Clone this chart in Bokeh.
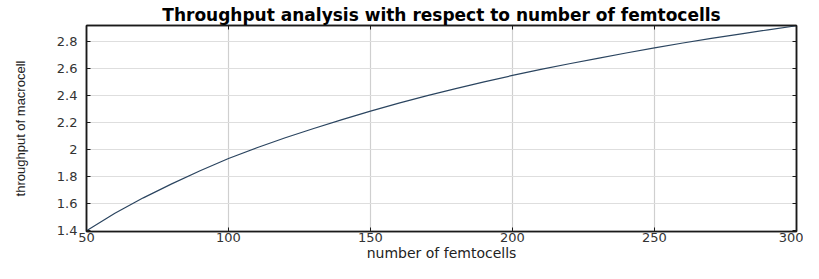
from bokeh.plotting import figure
from bokeh.models import Range1d, FixedTicker, LinearAxis
from bokeh.embed import file_html
from bokeh.resources import INLINE

# ---- data ----
femtocells = [50, 60, 70, 80, 90, 100, 110, 120, 130, 140, 150, 160, 170, 180,
              190, 200, 210, 220, 230, 240, 250, 260, 270, 280, 290, 300]
throughput = [1.396, 1.526, 1.640, 1.744, 1.841, 1.932, 2.012, 2.086, 2.155,
              2.221, 2.284, 2.344, 2.399, 2.451, 2.501, 2.549, 2.594, 2.636,
              2.676, 2.716, 2.754, 2.790, 2.824, 2.856, 2.888, 2.918]
x_ticks = [50, 100, 150, 200, 250, 300]
x_tick_labels = ["50", "100", "150", "200", "250", "300"]
y_ticks = [1.4, 1.6, 1.8, 2.0, 2.2, 2.4, 2.6, 2.8]
y_tick_labels = ["1.4", "1.6", "1.8", "2", "2.2", "2.4", "2.6", "2.8"]
x_limits = (50, 300)
y_limits = (1.39, 2.92)

title_text = "Throughput analysis with respect to number of femtocells"
x_label = "number of femtocells"
y_label = "throughput of macrocell"

p = figure(width=803, height=263, output_backend="svg", toolbar_location=None,
           x_range=Range1d(*x_limits), y_range=Range1d(*y_limits),
           title=title_text,
           min_border_left=86, min_border_right=7, min_border_top=25,
           min_border_bottom=28)

p.title.align = "center"
p.title.text_font = "DejaVu Sans"
p.title.text_font_style = "bold"
p.title.text_font_size = "17px"
p.title.text_color = "black"
p.title.standoff = 1
p.title.offset = 0

p.outline_line_color = "#1a1a1a"
p.outline_line_width = 1.5
p.background_fill_color = "white"
p.border_fill_color = "white"

for ax, ticks, labels in ((p.xaxis[0], x_ticks, x_tick_labels),
                          (p.yaxis[0], y_ticks, y_tick_labels)):
    ax.ticker = FixedTicker(ticks=ticks)
    ax.major_label_overrides = {t: l for t, l in zip(ticks, labels)}
    ax.major_tick_in = 4
    ax.major_tick_out = 0
    ax.minor_tick_in = 0
    ax.minor_tick_out = 0
    ax.axis_line_color = "#1a1a1a"
    ax.axis_line_width = 1.5
    ax.major_tick_line_color = "#1a1a1a"
    ax.major_label_text_font = "DejaVu Sans"
    ax.major_label_text_font_size = "13px"
    ax.major_label_text_color = "#333333"

p.xaxis.major_label_standoff = 1
p.yaxis.major_label_standoff = 9
p.xaxis.axis_label = x_label
p.xaxis.axis_label_text_font = "DejaVu Sans"
p.xaxis.axis_label_text_font_size = "14px"
p.xaxis.axis_label_text_font_style = "normal"
p.xaxis.axis_label_text_color = "#222222"
p.xaxis.axis_label_standoff = 0
p.yaxis.axis_label = y_label
p.yaxis.axis_label_text_font = "Liberation Sans"
p.yaxis.axis_label_text_font_size = "13px"
p.yaxis.axis_label_text_font_style = "normal"
p.yaxis.axis_label_text_color = "#222222"
p.yaxis.axis_label_standoff = 26

# mirrored tick marks on top and right (no labels)
for side, ticks in (("above", x_ticks), ("right", y_ticks)):
    ax = LinearAxis(ticker=FixedTicker(ticks=ticks))
    ax.major_label_overrides = {t: "" for t in ticks}
    ax.major_label_text_font_size = "1px"
    ax.major_label_standoff = 0
    ax.major_tick_in = 4
    ax.major_tick_out = 0
    ax.minor_tick_in = 0
    ax.minor_tick_out = 0
    ax.axis_line_color = "#1a1a1a"
    ax.axis_line_width = 1.5
    ax.major_tick_line_color = "#1a1a1a"
    p.add_layout(ax, side)

p.xgrid.ticker = FixedTicker(ticks=x_ticks)
p.ygrid.ticker = FixedTicker(ticks=y_ticks)
p.xgrid.grid_line_color = "#cfcfcf"
p.ygrid.grid_line_color = "#dedede"
p.xgrid.grid_line_width = 1.2
p.ygrid.grid_line_width = 1

p.line(femtocells, throughput, line_color="#2b4560", line_width=1.2)

open("out.html", "w").write(file_html(p, INLINE))
